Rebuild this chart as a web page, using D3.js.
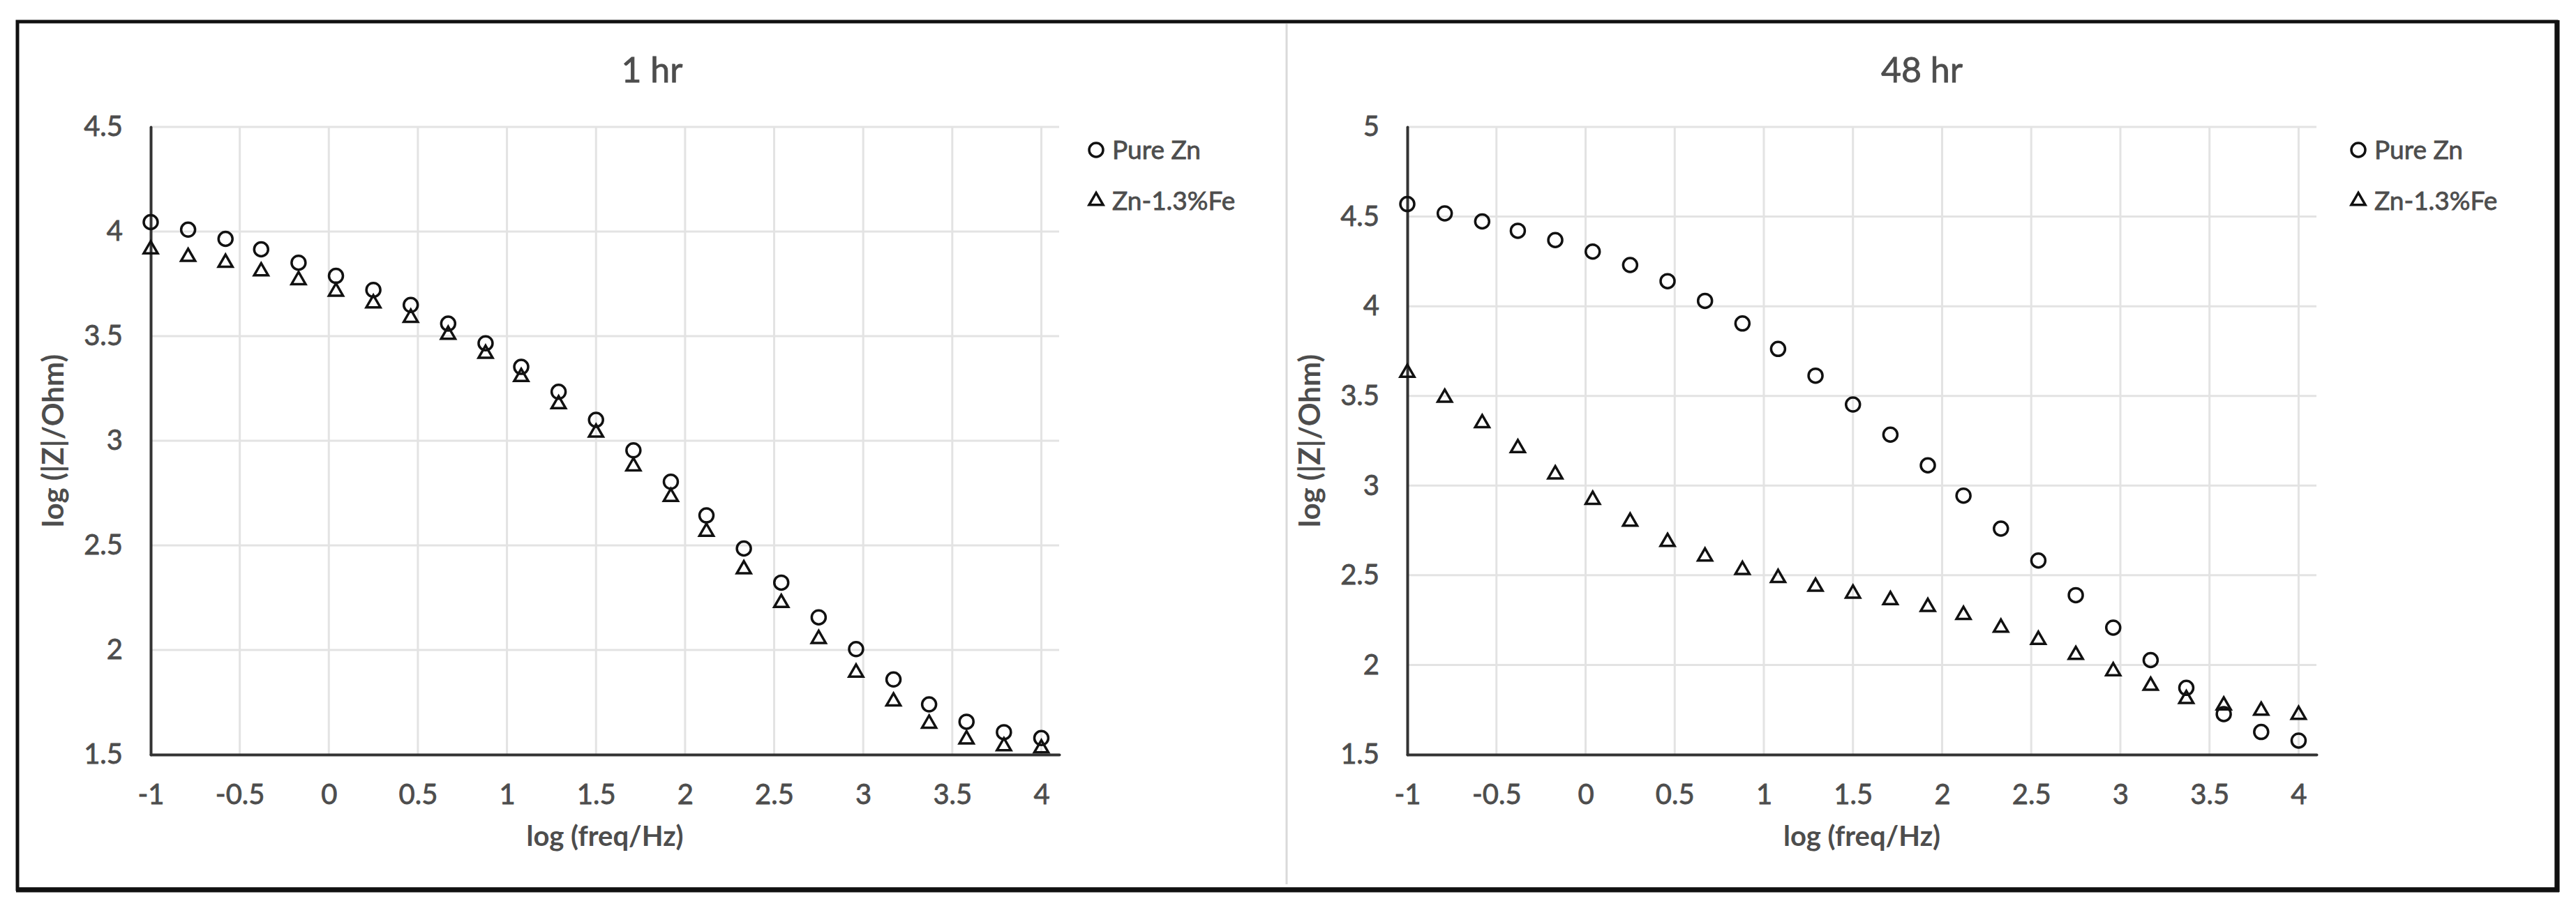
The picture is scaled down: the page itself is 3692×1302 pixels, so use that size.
<!DOCTYPE html>
<html>
<head>
<meta charset="utf-8">
<script src="https://cdn.jsdelivr.net/npm/d3@7"></script>
<style>
  body { margin: 0; background: #fff; }
  svg text { font-family: Lato, "Open Sans", sans-serif; }
</style>
</head>
<body>
<script>
// readings
const logFreq = [-1, -0.79, -0.58, -0.38, -0.17, 0.04, 0.25, 0.46, 0.67, 0.88, 1.08, 1.29, 1.5,
                 1.71, 1.92, 2.12, 2.33, 2.54, 2.75, 2.96, 3.17, 3.37, 3.58, 3.79, 4.0];

const pureZn1h = [4.045, 4.009, 3.965, 3.915, 3.851, 3.788, 3.721, 3.649, 3.560, 3.466, 3.353, 3.234, 3.100,
                  2.954, 2.804, 2.643, 2.485, 2.322, 2.156, 2.004, 1.859, 1.740, 1.657, 1.607, 1.579];
const znFe1h = [3.915, 3.879, 3.851, 3.810, 3.768, 3.713, 3.657, 3.588, 3.507, 3.416, 3.305, 3.175, 3.039,
                2.878, 2.732, 2.565, 2.386, 2.225, 2.053, 1.892, 1.754, 1.648, 1.573, 1.540, 1.530];

const pureZn48h = [4.570, 4.518, 4.473, 4.421, 4.369, 4.305, 4.230, 4.140, 4.030, 3.904, 3.762, 3.613, 3.452,
                   3.284, 3.113, 2.944, 2.760, 2.582, 2.389, 2.208, 2.027, 1.872, 1.726, 1.626, 1.578];
const znFe48h = [3.629, 3.490, 3.348, 3.209, 3.063, 2.921, 2.799, 2.686, 2.605, 2.530, 2.485, 2.436, 2.398,
                 2.362, 2.324, 2.279, 2.208, 2.140, 2.056, 1.965, 1.884, 1.810, 1.774, 1.745, 1.722];

const seriesNames = ["Pure Zn", "Zn-1.3%Fe"];
const panelTitles = ["1 hr", "48 hr"];
const xTicks = [-1, -0.5, 0, 0.5, 1, 1.5, 2, 2.5, 3, 3.5, 4];
const xDomain = [-1, 4.1];
const yTicks1h = [1.5, 2, 2.5, 3, 3.5, 4, 4.5];
const yTicks48h = [1.5, 2, 2.5, 3, 3.5, 4, 4.5, 5];
const xLabel = "log (freq/Hz)";
const yLabel = "log (|Z|/Ohm)";

const WIDTH = 3692;
const HEIGHT = 1302;
const TOP = 182;
const BOTTOM = 1082;
const TEXT = "#4d4d4d";
const GRID = "#e3e3e3";
const INK = "#111";

const panels = [
  {title: panelTitles[0], left: 216, right: 1518, x0: 25, x1: 1844, legendX: 1571, yTicks: yTicks1h, series: [pureZn1h, znFe1h]},
  {title: panelTitles[1], left: 2017, right: 3320, x0: 1844, x1: 3665, legendX: 3380, yTicks: yTicks48h, series: [pureZn48h, znFe48h]}
];

const symbols = [
  d3.symbol().type(d3.symbolCircle).size(Math.PI * 10 * 10),
  d3.symbol().type(d3.symbolTriangle).size(175)
];

// a thin outline of the same colour thickens the glyphs a little, like the source
const heavy = sel => sel.attr("stroke", TEXT).attr("stroke-width", 0.8).attr("paint-order", "stroke");

const svg = d3.select("body")
              .append("svg")
              .attr("width", WIDTH)
              .attr("height", HEIGHT);

svg.append("rect")
   .attr("width", WIDTH)
   .attr("height", HEIGHT)
   .attr("fill", "#fff");

// divider between the two charts
svg.append("line")
   .attr("x1", 1844).attr("x2", 1844)
   .attr("y1", 34).attr("y2", 1268)
   .attr("stroke", "#dadada")
   .attr("stroke-width", 3);

const drawPanel = (p) => {
  const g = svg.append("g");
  const x = d3.scaleLinear().domain(xDomain).range([p.left, p.right]);
  const y = d3.scaleLinear().domain(d3.extent(p.yTicks)).range([BOTTOM, TOP]);

  // gridlines
  g.append("g")
   .selectAll("line")
   .data(p.yTicks.slice(1))
   .join("line")
   .attr("x1", p.left).attr("x2", p.right)
   .attr("y1", d => y(d)).attr("y2", d => y(d))
   .attr("stroke", GRID).attr("stroke-width", 3);

  g.append("g")
   .selectAll("line")
   .data(xTicks.slice(1))
   .join("line")
   .attr("x1", d => x(d)).attr("x2", d => x(d))
   .attr("y1", TOP).attr("y2", BOTTOM)
   .attr("stroke", GRID).attr("stroke-width", 3);

  // axes
  const xAxis = g.append("g")
                 .attr("transform", "translate(0," + BOTTOM + ")")
                 .call(d3.axisBottom(x).tickValues(xTicks).tickSize(0).tickPadding(43).tickFormat(d => String(d)));
  const yAxis = g.append("g")
                 .attr("transform", "translate(" + p.left + ",0)")
                 .call(d3.axisLeft(y).tickValues(p.yTicks).tickSize(0).tickPadding(40).tickFormat(d => String(d)));

  [xAxis, yAxis].forEach(a => {
    a.attr("font-size", 40).attr("font-family", "Lato, sans-serif");
    a.select(".domain")
     .attr("stroke", "#333")
     .attr("stroke-width", 4)
     .attr("stroke-linecap", "round");
    a.selectAll("text").attr("fill", TEXT).call(heavy);
  });

  // markers
  p.series.forEach((vals, s) => {
    g.append("g")
     .selectAll("path")
     .data(logFreq.map((f, i) => [f, vals[i]]))
     .join("path")
     .attr("d", symbols[s])
     .attr("transform", d => "translate(" + x(d[0]) + "," + y(d[1]) + ")")
     .attr("fill", "none")
     .attr("stroke", INK)
     .attr("stroke-width", 3.5);
  });

  // titles
  g.append("text")
   .attr("x", (p.x0 + p.x1) / 2)
   .attr("y", 118)
   .attr("text-anchor", "middle")
   .attr("font-size", 50)
   .attr("fill", TEXT)
   .call(heavy)
   .text(p.title);

  g.append("text")
   .attr("x", (p.left + p.right) / 2)
   .attr("y", 1213)
   .attr("text-anchor", "middle")
   .attr("font-size", 40)
   .attr("font-weight", "bold")
   .attr("fill", TEXT)
   .text(xLabel);

  g.append("text")
   .attr("transform", "translate(" + (p.left - 125) + "," + (TOP + BOTTOM) / 2 + ") rotate(-90)")
   .attr("text-anchor", "middle")
   .attr("font-size", 42)
   .attr("font-weight", "bold")
   .attr("fill", TEXT)
   .text(yLabel);

  // legend
  const legend = g.append("g")
                  .selectAll("g")
                  .data(seriesNames)
                  .join("g")
                  .attr("transform", (d, i) => "translate(" + p.legendX + "," + (215 + i * 73) + ")");

  legend.append("path")
        .attr("d", (d, i) => symbols[i]())
        .attr("fill", "none")
        .attr("stroke", INK)
        .attr("stroke-width", 3.5);

  legend.append("text")
        .attr("x", 23)
        .attr("dy", "0.36em")
        .attr("font-size", 37)
        .attr("fill", TEXT)
        .call(heavy)
        .text(d => d);
};

panels.forEach(drawPanel);

// outer frame
svg.append("rect")
   .attr("x", 25).attr("y", 31)
   .attr("width", 3639).attr("height", 1244)
   .attr("fill", "none")
   .attr("stroke", INK)
   .attr("stroke-width", 5);
svg.append("line")
   .attr("x1", 23).attr("x2", 3668)
   .attr("y1", 1276).attr("y2", 1276)
   .attr("stroke", INK).attr("stroke-width", 7);
svg.append("line")
   .attr("x1", 3665).attr("x2", 3665)
   .attr("y1", 29).attr("y2", 1279)
   .attr("stroke", INK).attr("stroke-width", 7);
</script>
</body>
</html>
